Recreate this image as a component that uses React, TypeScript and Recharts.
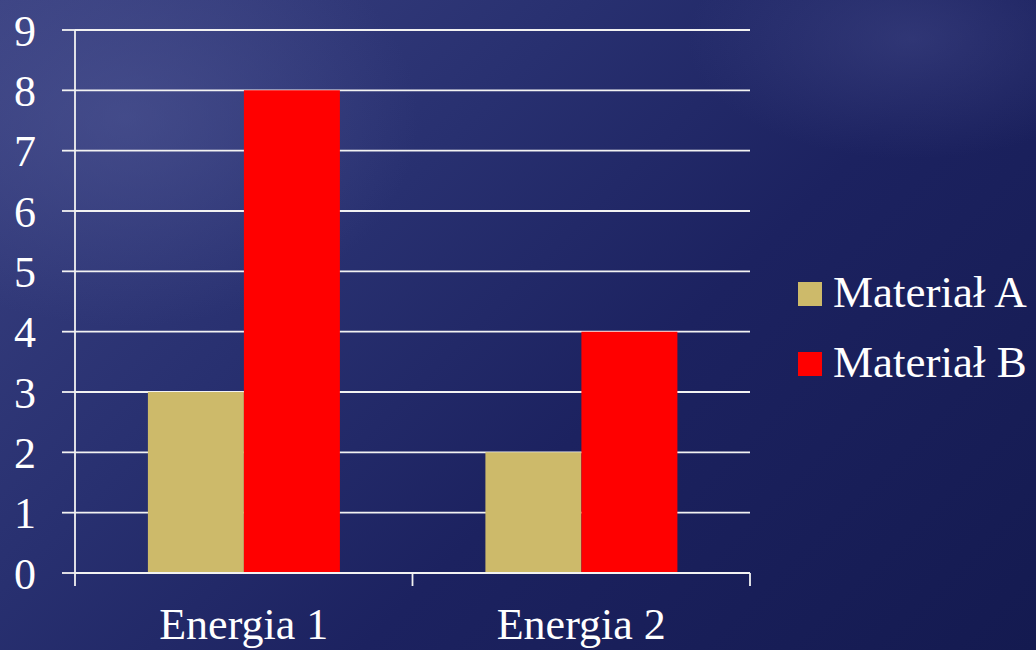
import React from 'react';
import { BarChart, Bar, XAxis, YAxis, CartesianGrid } from 'recharts';

const categories = ['Energia 1', 'Energia 2'];
const materialA = [3, 2];
const materialB = [8, 4];
const yTicks = [0, 1, 2, 3, 4, 5, 6, 7, 8, 9];

const SERIES = [
  { key: 'a', name: 'Materiał A', color: '#cdba6a' },
  { key: 'b', name: 'Materiał B', color: '#ff0000' },
];

const FONT = '"Liberation Serif", "Times New Roman", serif';
const LINE = '#f2f2f2';

const data = categories.map((name, i) => ({ name, a: materialA[i], b: materialB[i] }));

// category label at band centre, tick marks on band edges
const CategoryTick = (props: any) => {
  const { x, y, payload, index, visibleTicksCount } = props;
  const half = payload?.offset ?? 0;
  const last = index === visibleTicksCount - 1;
  return (
    <g>
      <line x1={x - half} x2={x - half} y1={y - 35} y2={y - 22} stroke={LINE} strokeWidth={1.8} />
      {last && <line x1={x + half} x2={x + half} y1={y - 35} y2={y - 22} stroke={LINE} strokeWidth={1.8} />}
      <text x={x} y={y} dy="0.71em" textAnchor="middle" fill="#ffffff" fontSize={44} fontFamily={FONT}>
        {payload.value}
      </text>
    </g>
  );
};

const LegendBox = () => (
  <div
    style={{ position: 'absolute', left: 798, top: 268, fontFamily: FONT, fontSize: 45, color: '#ffffff' }}
  >
    {SERIES.map((s, i) => (
      <div key={s.key} style={{ display: 'flex', alignItems: 'flex-end', height: 48, marginBottom: i === 0 ? 22 : 0 }}>
        <span style={{ width: 24, height: 24, background: s.color, marginRight: 11, marginBottom: 10 }} />
        <span style={{ lineHeight: '48px', whiteSpace: 'nowrap' }}>{s.name}</span>
      </div>
    ))}
  </div>
);

const App: React.FC = () => (
  <div
    style={{
      position: 'absolute',
      left: 0,
      top: 0,
      width: 1036,
      height: 650,
      overflow: 'hidden',
      background:
        'radial-gradient(ellipse 420px 300px at 12% 18%, rgba(80,88,150,0.55), transparent 70%), ' +
        'radial-gradient(ellipse 300px 160px at 88% 6%, rgba(70,76,140,0.45), transparent 75%), ' +
        'linear-gradient(135deg, #3b4282 0%, #283070 35%, #1c2260 60%, #141a50 100%)',
    }}
  >
    <BarChart
      width={1036}
      height={650}
      data={data}
      margin={{ top: 30, right: 286, left: 0, bottom: 0 }}
      barCategoryGap="21.6%"
      barGap={0}
    >
      <CartesianGrid horizontal vertical={false} stroke={LINE} strokeWidth={1.8} />
      <XAxis
        dataKey="name"
        height={77}
        axisLine={{ stroke: LINE, strokeWidth: 1.8 }}
        tickLine={false}
        tickMargin={35}
        tickSize={0}
        tick={<CategoryTick />}
        interval={0}
      />
      <YAxis
        width={75}
        domain={[0, 9]}
        ticks={yTicks}
        interval={0}
        tickSize={13}
        tickMargin={26}
        axisLine={{ stroke: LINE, strokeWidth: 1.8 }}
        tickLine={{ stroke: LINE, strokeWidth: 1.8 }}
        tick={{ fontSize: 44, fill: '#ffffff', fontFamily: FONT }}
      />
      {SERIES.map((s) => (
        <Bar key={s.key} dataKey={s.key} name={s.name} fill={s.color} isAnimationActive={false} />
      ))}
    </BarChart>
    <LegendBox />
  </div>
);

export default App;
